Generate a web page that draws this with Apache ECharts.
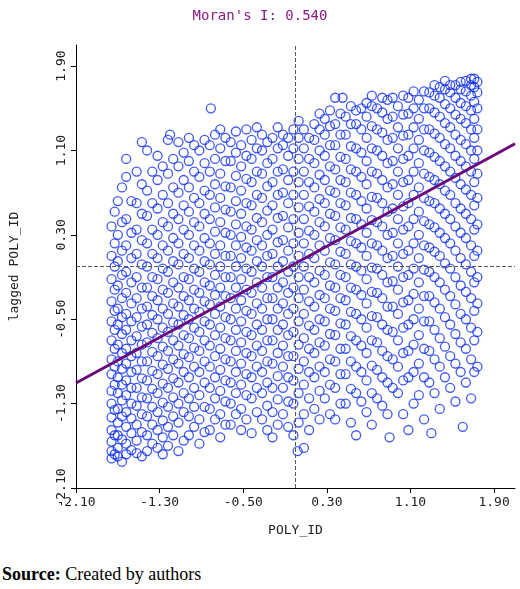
<!DOCTYPE html>
<html><head><meta charset="utf-8">
<script src="https://cdn.jsdelivr.net/npm/echarts@6/dist/echarts.min.js"></script>
<style>body{margin:0;background:#fff}#c{width:520px;height:560px}#s{position:absolute;left:2px;top:564px;font-family:'Liberation Serif',serif;font-size:18px}</style>
</head><body><div id="c"></div><div id="s"><b>Source:</b> Created by authors</div>
<script>
const title = "Moran's I: 0.540";
const colX = [-1.76,-1.70,-1.62,-1.52,-1.42,-1.32,-1.22,-1.12,-1.02,-0.92,-0.82,-0.72,-0.62,-0.52,-0.42,-0.32,-0.22,-0.12,-0.02,0.08,0.18,0.28,0.38,0.48,0.58,0.68,0.78,0.88,0.98,1.08,1.18,1.28,1.38,1.48,1.58,1.68,1.74];
const colY = [
[-1.82,-1.75,-1.66,-1.55,-1.43,-1.3,-1.18,-1.02,-0.88,-0.7,-0.52,-0.33,-0.12,0.1,0.38],
[-1.8,-1.72,-1.6,-1.48,-1.35,-1.2,-1.05,-0.9,-0.74,-0.55,-0.4,-0.18,0.05,0.3,0.62],
[-1.78,-1.68,-1.52,-1.38,-1.22,-1.08,-0.92,-0.78,-0.6,-0.45,-0.25,-0.05,0.2,0.45,0.85,1.02],
[-1.77,-1.65,-1.5,-1.32,-1.15,-0.98,-0.82,-0.66,-0.48,-0.3,-0.1,0.12,0.35,0.6,0.9],
[-1.75,-1.6,-1.42,-1.25,-1.08,-0.9,-0.72,-0.55,-0.38,-0.2,0.0,0.22,0.48,0.72,1.1],
[-1.72,-1.55,-1.38,-1.2,-1.02,-0.85,-0.68,-0.5,-0.32,-0.12,0.08,0.3,0.55,0.82,1.05],
[-1.7,-1.52,-1.33,-1.15,-0.97,-0.8,-0.62,-0.45,-0.25,-0.05,0.15,0.38,0.6,0.88,1.2],
[-1.75,-1.48,-1.3,-1.1,-0.92,-0.75,-0.55,-0.38,-0.2,0.02,0.22,0.45,0.7,0.95,1.18],
[-1.6,-1.42,-1.25,-1.05,-0.86,-0.68,-0.5,-0.32,-0.12,0.08,0.3,0.52,0.75,1.0,1.22],
[-1.68,-1.45,-1.22,-1.0,-0.8,-0.62,-0.43,-0.25,-0.05,0.15,0.38,0.6,0.85,1.1],
[-1.55,-1.35,-1.15,-0.95,-0.75,-0.55,-0.36,-0.18,0.02,0.22,0.45,0.68,0.9,1.15],
[-1.62,-1.4,-1.18,-0.98,-0.78,-0.58,-0.38,-0.2,0.0,0.2,0.42,0.65,0.88,1.12,1.3],
[-1.5,-1.3,-1.1,-0.9,-0.7,-0.5,-0.3,-0.1,0.1,0.3,0.52,0.75,1.0,1.18],
[-1.55,-1.35,-1.12,-0.92,-0.72,-0.52,-0.32,-0.12,0.08,0.28,0.5,0.72,0.95,1.15],
[-1.58,-1.25,-1.05,-0.85,-0.65,-0.45,-0.25,-0.05,0.15,0.35,0.58,0.8,1.02,1.2],
[-1.45,-1.2,-1.0,-0.8,-0.6,-0.4,-0.2,0.0,0.2,0.42,0.65,0.88,1.1,1.25],
[-1.62,-1.38,-1.15,-0.92,-0.7,-0.5,-0.3,-0.1,0.12,0.35,0.58,0.8,1.02,1.22],
[-1.4,-1.15,-0.95,-0.75,-0.55,-0.35,-0.15,0.05,0.25,0.48,0.7,0.92,1.15,1.25],
[-1.6,-1.3,-1.08,-0.85,-0.62,-0.4,-0.2,0.0,0.22,0.45,0.68,0.9,1.12,1.3],
[-1.72,-1.4,-1.12,-0.9,-0.68,-0.45,-0.22,0.0,0.22,0.45,0.68,0.9,1.12,1.3],
[-1.35,-1.05,-0.82,-0.6,-0.38,-0.15,0.08,0.3,0.52,0.75,0.98,1.2,1.35],
[-1.25,-1.0,-0.75,-0.52,-0.3,-0.08,0.15,0.38,0.6,0.82,1.05,1.25,1.4],
[-1.45,-1.15,-0.9,-0.65,-0.42,-0.2,0.02,0.25,0.48,0.7,0.92,1.15,1.35,1.6],
[-1.3,-1.02,-0.78,-0.55,-0.32,-0.1,0.12,0.35,0.58,0.8,1.02,1.25,1.42],
[-1.6,-1.2,-0.95,-0.7,-0.45,-0.22,0.0,0.22,0.45,0.68,0.9,1.12,1.35,1.48],
[-1.38,-1.08,-0.82,-0.58,-0.35,-0.12,0.1,0.32,0.55,0.78,1.0,1.22,1.42,1.55],
[-1.25,-0.98,-0.72,-0.48,-0.25,-0.02,0.2,0.42,0.65,0.88,1.1,1.3,1.5],
[-1.4,-1.1,-0.85,-0.6,-0.38,-0.15,0.08,0.3,0.52,0.75,0.98,1.2,1.4,1.58],
[-1.2,-0.95,-0.7,-0.45,-0.22,0.0,0.22,0.45,0.68,0.9,1.12,1.32,1.52],
[-1.55,-1.05,-0.8,-0.55,-0.32,-0.08,0.15,0.38,0.6,0.82,1.05,1.25,1.45,1.6],
[-1.22,-0.92,-0.65,-0.4,-0.15,0.08,0.3,0.52,0.75,0.98,1.2,1.4,1.58],
[-1.1,-0.8,-0.52,-0.28,-0.05,0.18,0.4,0.62,0.85,1.08,1.3,1.5,1.65],
[-1.35,-0.95,-0.68,-0.4,-0.15,0.1,0.32,0.55,0.78,1.0,1.22,1.42,1.6,1.7],
[-1.15,-0.85,-0.55,-0.28,-0.02,0.22,0.45,0.68,0.9,1.12,1.32,1.5,1.65,1.72],
[-1.0,-0.72,-0.45,-0.18,0.08,0.32,0.55,0.78,1.0,1.2,1.4,1.55,1.68,1.75],
[-1.25,-0.88,-0.58,-0.3,-0.05,0.2,0.45,0.68,0.9,1.1,1.3,1.48,1.62,1.72,1.78],
[-0.95,-0.62,-0.35,-0.1,0.15,0.4,0.65,0.88,1.1,1.3,1.5,1.65,1.75]
];
const colX2 = [-1.73,-1.66,-1.57,-1.47,-1.37,-1.27,-1.17,-1.07,-0.97,-0.87,-0.77,-0.67,-0.57,-0.47,-0.37,-0.27,-0.17,-0.07,0.03,0.13,0.23,0.33,0.43,0.53,0.63,0.73,0.83,0.93,1.03,1.13,1.23,1.33,1.43,1.53,1.63,1.71];
const colY2 = [
[-1.78,-1.6,-1.36,-1.12,-0.95,-0.78,-0.6,-0.42,-0.22,0.0,0.22,0.52],
[-1.85,-1.64,-1.42,-1.27,-1.12,-0.97,-0.82,-0.64,-0.48,-0.3,-0.08,0.15,0.42,0.75],
[-1.74,-1.58,-1.44,-1.3,-1.15,-1.0,-0.85,-0.7,-0.52,-0.35,-0.15,0.08,0.32,0.62],
[-1.8,-1.57,-1.4,-1.24,-1.06,-0.9,-0.74,-0.57,-0.4,-0.2,0.02,0.25,0.5,0.78],
[-1.68,-1.5,-1.33,-1.16,-0.99,-0.81,-0.63,-0.46,-0.28,-0.1,0.12,0.35,0.6,0.9],
[-1.78,-1.62,-1.46,-1.29,-1.11,-0.93,-0.76,-0.58,-0.4,-0.22,-0.02,0.2,0.42,0.68,0.95],
[-1.6,-1.42,-1.24,-1.06,-0.88,-0.7,-0.53,-0.35,-0.15,0.05,0.27,0.5,0.75,1.02],
[-1.65,-1.38,-1.2,-1.0,-0.83,-0.65,-0.46,-0.28,-0.1,0.12,0.35,0.58,0.82,1.08],
[-1.52,-1.33,-1.15,-0.95,-0.77,-0.58,-0.4,-0.22,-0.02,0.2,0.42,0.65,0.9,1.15],
[-1.57,-1.33,-1.1,-0.9,-0.7,-0.52,-0.33,-0.15,0.05,0.27,0.5,0.72,0.98,1.2],
[-1.45,-1.25,-1.05,-0.85,-0.65,-0.45,-0.27,-0.08,0.12,0.33,0.56,0.78,1.02,1.25],
[-1.5,-1.28,-1.08,-0.88,-0.68,-0.48,-0.28,-0.1,0.1,0.32,0.54,0.76,1.0,1.22],
[-1.4,-1.2,-1.0,-0.8,-0.6,-0.4,-0.2,0.0,0.2,0.4,0.62,0.86,1.08,1.28],
[-1.45,-1.22,-1.02,-0.82,-0.62,-0.42,-0.22,-0.02,0.18,0.38,0.6,0.83,1.05,1.3],
[-1.38,-1.15,-0.95,-0.75,-0.55,-0.35,-0.15,0.05,0.25,0.46,0.68,0.9,1.12,1.32],
[-1.55,-1.32,-1.1,-0.9,-0.7,-0.5,-0.3,-0.1,0.1,0.3,0.53,0.76,0.98,1.18],
[-1.5,-1.26,-1.04,-0.82,-0.6,-0.4,-0.2,0.0,0.23,0.46,0.68,0.9,1.12,1.32],
[-1.52,-1.28,-1.05,-0.85,-0.65,-0.45,-0.25,-0.05,0.15,0.37,0.6,0.82,1.05,1.22],
[-1.48,-1.2,-0.97,-0.74,-0.52,-0.3,-0.1,0.1,0.32,0.56,0.8,1.02,1.22,1.38],
[-1.55,-1.25,-1.0,-0.78,-0.56,-0.33,-0.1,0.12,0.34,0.57,0.8,1.02,1.22],
[-1.45,-1.18,-0.95,-0.72,-0.5,-0.27,-0.04,0.2,0.42,0.64,0.87,1.1,1.3,1.45],
[-1.4,-1.12,-0.88,-0.64,-0.4,-0.18,0.04,0.27,0.5,0.72,0.95,1.15,1.33,1.48],
[-1.3,-1.02,-0.78,-0.54,-0.3,-0.08,0.14,0.37,0.6,0.82,1.04,1.25,1.45],
[-1.48,-1.16,-0.9,-0.66,-0.43,-0.2,0.02,0.24,0.46,0.7,0.92,1.14,1.35,1.52],
[-1.28,-1.0,-0.75,-0.5,-0.27,-0.04,0.18,0.4,0.62,0.85,1.08,1.3,1.5],
[-1.5,-1.2,-0.94,-0.7,-0.47,-0.24,-0.01,0.22,0.44,0.66,0.9,1.12,1.33,1.52,1.62],
[-1.32,-1.05,-0.8,-0.55,-0.3,-0.08,0.15,0.38,0.6,0.82,1.05,1.27,1.46,1.6],
[-1.15,-0.88,-0.62,-0.38,-0.14,0.1,0.32,0.55,0.78,1.0,1.22,1.42,1.6],
[-1.4,-1.08,-0.82,-0.58,-0.34,-0.1,0.12,0.35,0.57,0.8,1.02,1.24,1.44,1.62],
[-1.3,-1.0,-0.74,-0.5,-0.26,-0.02,0.22,0.45,0.68,0.9,1.12,1.32,1.5,1.66],
[-1.45,-1.05,-0.78,-0.52,-0.28,-0.03,0.2,0.43,0.65,0.88,1.1,1.3,1.5,1.66],
[-1.2,-0.88,-0.6,-0.34,-0.1,0.14,0.37,0.6,0.82,1.04,1.26,1.46,1.62,1.72],
[-1.05,-0.76,-0.48,-0.22,0.03,0.27,0.5,0.72,0.95,1.16,1.36,1.54,1.68,1.76],
[-1.28,-0.92,-0.64,-0.36,-0.1,0.15,0.38,0.6,0.84,1.05,1.25,1.44,1.6,1.72],
[-1.1,-0.78,-0.5,-0.24,0.02,0.27,0.5,0.73,0.95,1.16,1.36,1.52,1.66,1.76],
[-1.0,-0.7,-0.42,-0.15,0.1,0.35,0.58,0.8,1.02,1.22,1.4,1.56,1.7,1.78]
];
const outliers = [[-0.81,1.5],[-1.47,1.18],[0.9,-1.62],[1.6,-1.52],[1.3,-1.58],[0.02,-1.75],[0.45,1.6],[-1.2,1.25]];
const lineX = [-2.1, 2.1];
const slope = 0.540, intercept = 0.03;

const pts = [];
colX.forEach((x,i)=>colY[i].forEach(y=>pts.push([x,y])));
colX2.forEach((x,i)=>colY2[i].forEach(y=>pts.push([x,y])));
outliers.forEach(p=>pts.push(p));
const lineData = lineX.map(x=>[x, slope*x+intercept]);
const mono = 'DejaVu Sans Mono';
const fmt = v => v.toFixed(2);
const chart = echarts.init(document.getElementById('c'));
chart.setOption({
  animation:false,
  title:{text:title,left:'center',top:4,textStyle:{fontFamily:mono,fontSize:14,fontWeight:'normal',color:'#8b1a8b'}},
  grid:{left:75,right:5,top:45,bottom:72},
  xAxis:{type:'value',min:-2.1,max:2.1,interval:0.8,name:'POLY_ID',nameLocation:'middle',nameGap:36,
    nameTextStyle:{fontFamily:mono,fontSize:13,color:'#222'},
    axisLine:{onZero:false,lineStyle:{color:'#000'}},axisTick:{show:true,lineStyle:{color:'#000'}},
    axisLabel:{formatter:fmt,fontFamily:mono,fontSize:13,color:'#222',showMaxLabel:false},splitLine:{show:false}},
  yAxis:{type:'value',min:-2.1,max:2.1,interval:0.8,name:'lagged POLY_ID',nameLocation:'middle',nameGap:55,nameRotate:90,
    nameTextStyle:{fontFamily:mono,fontSize:13,color:'#222'},
    axisLine:{onZero:false,lineStyle:{color:'#000'}},axisTick:{show:true,lineStyle:{color:'#000'}},
    axisLabel:{formatter:fmt,rotate:90,fontFamily:mono,fontSize:13,color:'#222',showMaxLabel:false},splitLine:{show:false}},
  series:[
    {type:'scatter',data:pts,symbol:'circle',symbolSize:9,itemStyle:{color:'rgba(0,0,0,0)',borderColor:'#1030f0',borderWidth:1.3},
     markLine:{silent:true,symbol:'none',label:{show:false},lineStyle:{color:'#555',type:'dashed',width:1},data:[{xAxis:0},{yAxis:0}]}},
    {type:'line',data:lineData,symbol:'none',lineStyle:{color:'#6a0a78',width:3}}
  ]
});
</script></body></html>
